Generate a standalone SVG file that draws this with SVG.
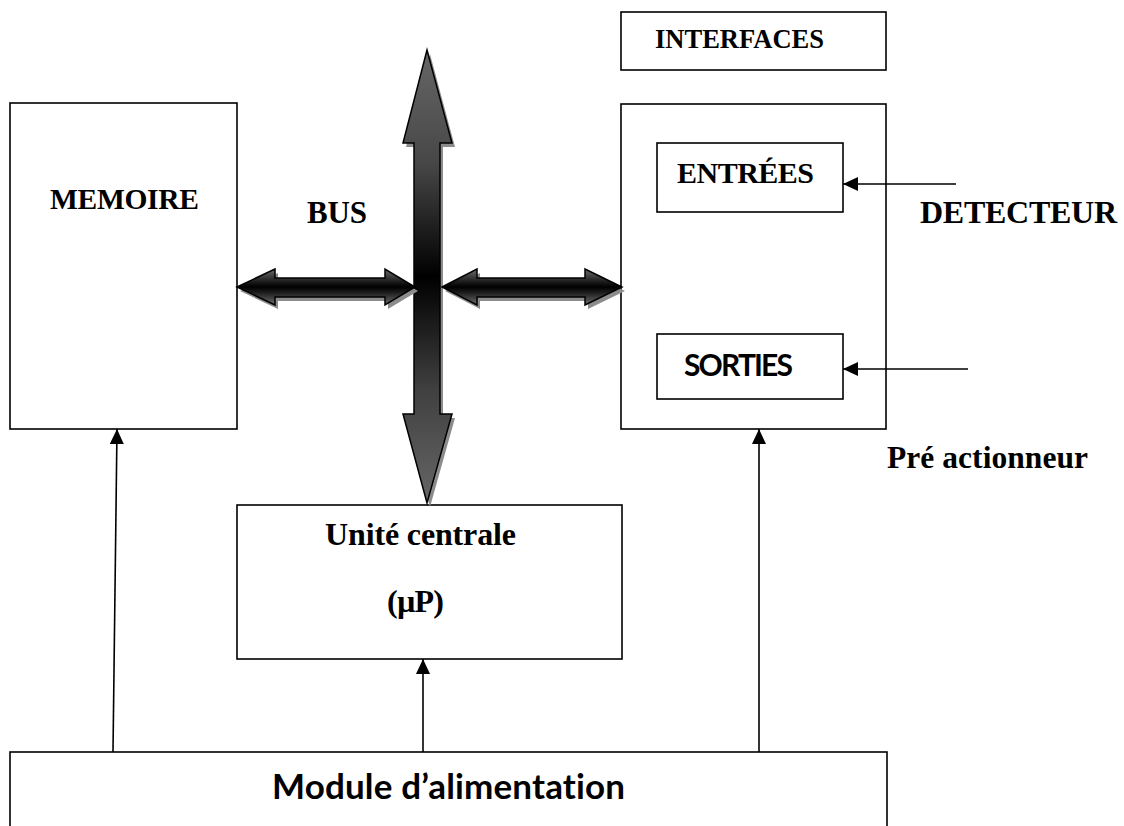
<svg xmlns="http://www.w3.org/2000/svg" width="1124" height="826" viewBox="0 0 1124 826">
  <style>
    .box { fill: #ffffff; stroke: #000000; stroke-width: 1.6; }
    .serif { font-family: "Liberation Serif", "Times New Roman", serif; font-weight: bold; fill: #000000; }
    .sans { font-family: Lato, "Liberation Sans", sans-serif; font-weight: bold; fill: #000000; font-variant-ligatures: none; }
    .wire { fill: none; stroke: #000000; stroke-width: 1.6; marker-end: url(#head); }
    .bus { stroke: #000000; stroke-width: 1.5; stroke-linejoin: miter; }
    .shadow { fill: #8c8c8c; }
  </style>
  <defs>
    <marker id="head" markerUnits="userSpaceOnUse" markerWidth="15" markerHeight="14" refX="15" refY="7" orient="auto">
      <path d="M0,0 L15,7 L0,14 Z" fill="#000000"/>
    </marker>
    <!-- vertical bus: grey at both ends, black at the crossing -->
    <linearGradient id="gradV" gradientUnits="userSpaceOnUse" x1="0" y1="50" x2="0" y2="503">
      <stop offset="0" stop-color="#666666"/>
      <stop offset="0.25" stop-color="#474747"/>
      <stop offset="0.5" stop-color="#000000"/>
      <stop offset="0.75" stop-color="#404040"/>
      <stop offset="1" stop-color="#666666"/>
    </linearGradient>
    <!-- horizontal bus branches: dark core, grey edges -->
    <linearGradient id="gradH" gradientUnits="userSpaceOnUse" x1="0" y1="269" x2="0" y2="305">
      <stop offset="0" stop-color="#6e6e6e"/>
      <stop offset="0.35" stop-color="#1c1c1c"/>
      <stop offset="0.5" stop-color="#000000"/>
      <stop offset="0.65" stop-color="#1c1c1c"/>
      <stop offset="1" stop-color="#6e6e6e"/>
    </linearGradient>
    <polygon id="busV" points="427,50 452,143 440,143 440,414 452,414 427,503 403,414 414,414 414,143 403,143"/>
    <polygon id="busL" points="237,287 275,269 275,278 385,278 385,269 415,287 385,305 385,297 275,297 275,305"/>
    <polygon id="busR" points="442,287 477,269 477,278 585,278 585,269 622,287 585,305 585,297 477,297 477,305"/>
  </defs>

  <rect width="1124" height="826" fill="#ffffff"/>

  <g id="memoire">
    <rect class="box" x="10" y="103" width="227" height="326"/>
    <text class="serif" x="50" y="209" font-size="29.5" textLength="149">MEMOIRE</text>
  </g>

  <g id="interfaces-title">
    <rect class="box" x="621" y="12" width="265" height="58"/>
    <text class="serif" x="655" y="48" font-size="26.5" textLength="169">INTERFACES</text>
  </g>

  <g id="interfaces">
    <rect class="box" x="621" y="104" width="265" height="325"/>
  </g>

  <g id="entrees">
    <rect class="box" x="657" y="143" width="186" height="69"/>
    <text class="serif" x="677" y="183" font-size="30" textLength="137">ENTRÉES</text>
  </g>

  <g id="sorties">
    <rect class="box" x="657" y="334" width="186" height="65"/>
    <text class="sans" x="684" y="376" font-size="30" textLength="109">SORTIES</text>
  </g>

  <g id="unite-centrale">
    <rect class="box" x="237" y="505" width="385" height="154"/>
    <text class="serif" x="325" y="545" font-size="32" textLength="191">Unité centrale</text>
    <text class="serif" x="387" y="612" font-size="32" textLength="57">(µP)</text>
  </g>

  <g id="module-alimentation">
    <rect class="box" x="10" y="752" width="877" height="100"/>
    <text class="sans" x="272" y="799" font-size="35" textLength="353">Module d’alimentation</text>
  </g>

  <g id="labels">
    <text class="serif" x="307" y="223" font-size="31" textLength="60">BUS</text>
    <text class="serif" x="920" y="223" font-size="32" textLength="197">DETECTEUR</text>
    <text class="serif" x="887" y="468" font-size="31.5" textLength="201">Pré actionneur</text>
  </g>

  <g id="connectors">
    <!-- bus: shadows first, then the arrows -->
    <g id="bus">
      <use href="#busV" class="shadow" transform="translate(3,4)"/>
      <use href="#busV" class="bus" fill="url(#gradV)"/>
      <use href="#busL" class="shadow" transform="translate(3,4)"/>
      <use href="#busR" class="shadow" transform="translate(3,4)"/>
      <use href="#busL" class="bus" fill="url(#gradH)"/>
      <use href="#busR" class="bus" fill="url(#gradH)"/>
    </g>
    <line class="wire" x1="956" y1="184" x2="843" y2="184"/>
    <line class="wire" x1="968" y1="369" x2="843" y2="369"/>
    <line class="wire" x1="113" y1="752" x2="117" y2="429"/>
    <line class="wire" x1="423" y1="752" x2="423" y2="659"/>
    <line class="wire" x1="759" y1="752" x2="759" y2="429"/>
  </g>
</svg>
